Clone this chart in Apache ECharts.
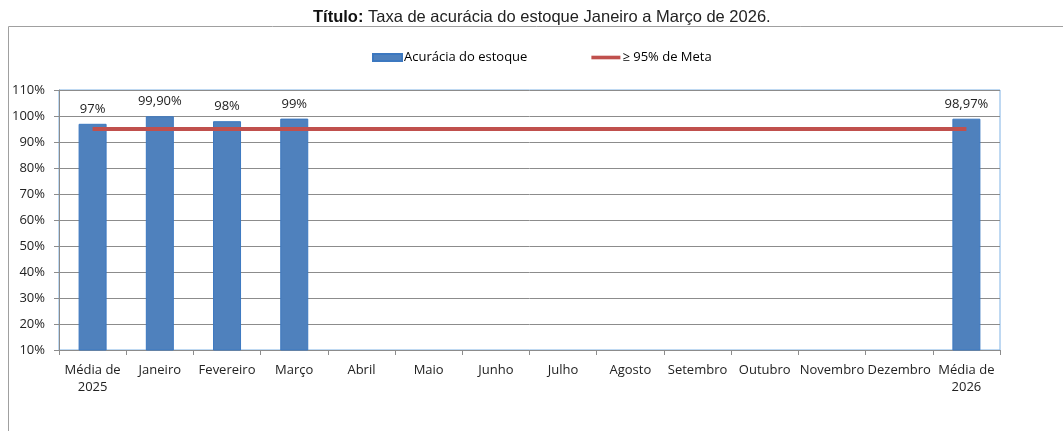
<!DOCTYPE html>
<html>
<head>
<meta charset="utf-8">
<script src="https://cdn.jsdelivr.net/npm/echarts@6/dist/echarts.min.js"></script>
<style>
  html, body { margin: 0; padding: 0; background: #fff; }
  #app { width: 1063px; height: 431px; }
</style>
</head>
<body>
<div id="app"></div>
<script>
// dados do gráfico
const categorias = ['Média de\n2025', 'Janeiro', 'Fevereiro', 'Março', 'Abril', 'Maio', 'Junho',
  'Julho', 'Agosto', 'Setembro', 'Outubro', 'Novembro', 'Dezembro', 'Média de\n2026'];
const acuracia = [97, 99.9, 98, 99, null, null, null, null, null, null, null, null, null, 98.97];
const rotulos = ['97%', '99,90%', '98%', '99%', '', '', '', '', '', '', '', '', '', '98,97%'];
const meta = [95, 95, 95, 95, 95, 95, 95, 95, 95, 95, 95, 95, 95, 95];
const yTicks = [10, 20, 30, 40, 50, 60, 70, 80, 90, 100, 110];

const fonte = '"Open Sans", "Noto Sans", sans-serif';

const chart = echarts.init(document.getElementById('app'));
chart.setOption({
  animation: false,
  textStyle: { fontFamily: fonte },
  title: {
    text: '{b|Título:} Taxa de acurácia do estoque Janeiro a Março de 2026.',
    left: 308,
    top: 4,
    textStyle: {
      fontFamily: 'Liberation Sans, Arial, sans-serif',
      fontSize: 16.5,
      fontWeight: 'normal',
      color: '#222',
      rich: {
        b: { fontFamily: 'Liberation Sans, Arial, sans-serif', fontSize: 16.5, fontWeight: 'bold', color: '#111' }
      }
    }
  },
  // moldura externa
  graphic: [{
    type: 'rect',
    shape: { x: 8.5, y: 26.5, width: 1100, height: 500 },
    style: { fill: 'none', stroke: '#a0a0a0', lineWidth: 1 },
    silent: true
  }],
  legend: {
    top: 46,
    left: 367,
    itemGap: 64,
    itemWidth: 29,
    itemHeight: 7,
    textStyle: { fontSize: 13, color: '#000', fontFamily: fonte, padding: [0, 0, 0, -3] },
    data: [
      { name: 'Acurácia do estoque', icon: 'rect' },
      { name: '≥ 95% de Meta', icon: 'path://M0,0H32V4H0Z' }
    ]
  },
  grid: {
    left: 59, right: 63, top: 90, bottom: 81,
    show: true,
    borderColor: '#7fb2e5',
    borderWidth: 1,
    backgroundColor: 'transparent'
  },
  xAxis: {
    type: 'category',
    data: categorias,
    boundaryGap: true,
    axisLine: { lineStyle: { color: '#8c8c8c' } },
    axisTick: { show: true, length: 5, lineStyle: { color: '#8c8c8c' } },
    axisLabel: { color: '#222', fontSize: 13, lineHeight: 17, margin: 12, interval: 0, fontFamily: fonte }
  },
  yAxis: {
    type: 'value',
    min: yTicks[0],
    max: yTicks[yTicks.length - 1],
    interval: 10,
    axisLine: { show: true, lineStyle: { color: '#8c8c8c' } },
    axisTick: { show: true, length: 5, lineStyle: { color: '#8c8c8c' } },
    axisLabel: { color: '#222', fontSize: 13, margin: 14, formatter: '{value}%', fontFamily: fonte },
    splitLine: { lineStyle: { color: '#8c8c8c', width: 1 } }
  },
  series: [
    {
      name: 'Acurácia do estoque',
      type: 'bar',
      data: acuracia,
      barWidth: 28,
      itemStyle: { color: '#4f81bd', borderColor: '#3c78c0', borderWidth: 1 },
      label: {
        show: true,
        position: 'top',
        distance: 8,
        color: '#222',
        fontSize: 13,
        fontFamily: fonte,
        formatter: p => rotulos[p.dataIndex]
      }
    },
    {
      name: '≥ 95% de Meta',
      type: 'line',
      data: meta,
      symbol: 'none',
      lineStyle: { color: '#c0504d', width: 4 },
      itemStyle: { color: '#c0504d' },
      z: 3
    }
  ]
});
</script>
</body>
</html>
